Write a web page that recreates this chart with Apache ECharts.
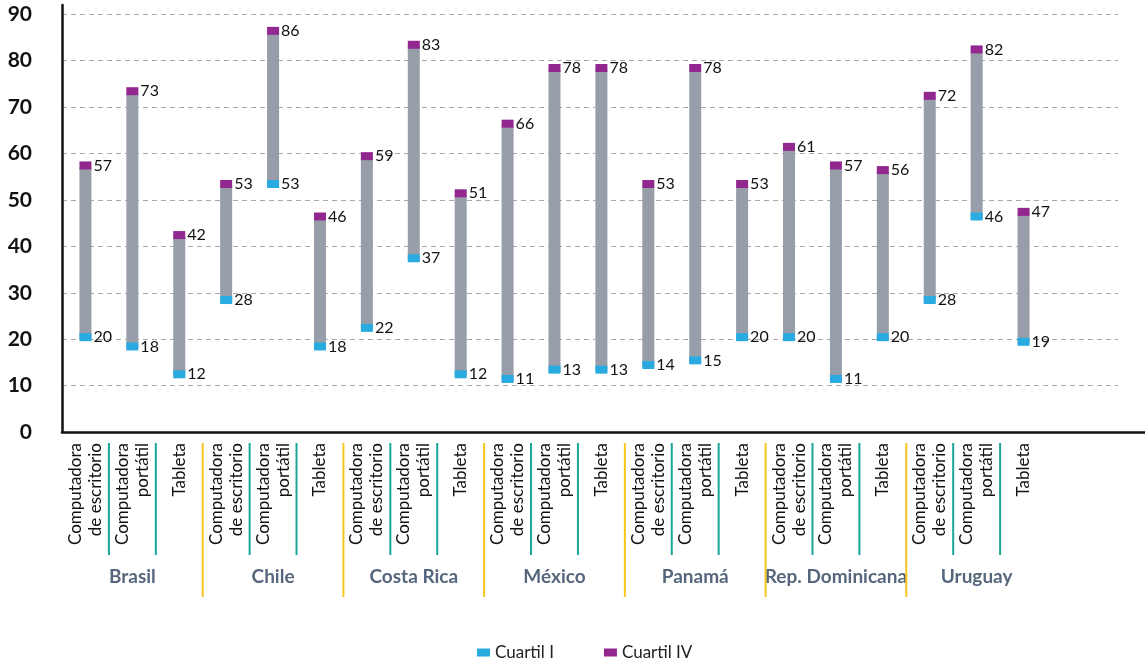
<!DOCTYPE html>
<html>
<head>
<meta charset="utf-8">
<script src="https://cdn.jsdelivr.net/npm/echarts@6/dist/echarts.min.js"></script>
<style>
  html, body { margin: 0; padding: 0; background: #fff; }
  #chart { width: 1145px; height: 660px; }
</style>
</head>
<body>
<div id="chart"></div>
<script>
// ---- data ----
const countries = ['Brasil', 'Chile', 'Costa Rica', 'México', 'Panamá', 'Rep. Dominicana', 'Uruguay'];
const devices = ['Computadora\nde escritorio', 'Computadora\nportátil', 'Tableta'];
const quartile1 = [20, 18, 12, 28, 53, 18, 22, 37, 12, 11, 13, 13, 14, 15, 20, 20, 11, 20, 28, 46, 19];
const quartile4 = [57, 73, 42, 53, 86, 46, 59, 83, 51, 66, 78, 78, 53, 78, 53, 61, 57, 56, 72, 82, 47];
const yTicks = [0, 10, 20, 30, 40, 50, 60, 70, 80, 90];

// ---- derived ----
const categories = [];
countries.forEach(() => devices.forEach(d => categories.push(d)));
const rangeSize = quartile4.map((v, i) => v - quartile1[i]);
const separators = [];
for (let i = 1; i < categories.length; i++) separators.push([i, i % devices.length === 0 ? 1 : 0]);

const FONT = 'Lato';
const TEXT = '#111';
const chart = echarts.init(document.getElementById('chart'));

const AXIS_Y = 432;         // pixel of value 0
const TOP_MAIN = 5;         // top of the data grid (value yMaxMain)
const yMaxMain = 92;
const pxPerUnit = (AXIS_Y - TOP_MAIN) / yMaxMain;
const yMaxGrid = yTicks[yTicks.length - 1];
const topGridLines = AXIS_Y - yMaxGrid * pxPerUnit;
const bottom = 660 - AXIS_Y;

const labelStyle = { fontFamily: FONT, fontSize: 16, color: TEXT };

chart.setOption({
  animation: false,
  textStyle: { fontFamily: FONT },
  legend: {
    data: ['Cuartil I', 'Cuartil IV'],
    left: 472, top: 639,
    itemWidth: 13, itemHeight: 8, itemGap: 50,
    icon: 'rect',
    textStyle: { fontFamily: FONT, fontSize: 17, color: '#222' }
  },
  grid: [
    { left: 62, right: 27, top: topGridLines, bottom: bottom },   // gridlines + y labels
    { left: 62, right: 0, top: TOP_MAIN, bottom: bottom },        // x axis line
    { left: 62, right: 98, top: TOP_MAIN, bottom: bottom },       // data
    { left: 62, right: 98, top: 443, bottom: 63 }                 // separators
  ],
  xAxis: [
    { gridIndex: 0, type: 'category', data: [''], show: false },
    { gridIndex: 1, type: 'category', data: [''], axisLine: { show: true, lineStyle: { color: '#111', width: 2.5 } }, axisTick: { show: false }, axisLabel: { show: false } },
    { gridIndex: 2, type: 'category', data: categories,
      axisLine: { show: false }, axisTick: { show: false },
      axisLabel: { interval: 0, rotate: 90, margin: 11, fontFamily: FONT, fontSize: 17, lineHeight: 20, color: TEXT } },
    { gridIndex: 2, type: 'category', data: countries, position: 'bottom',
      axisLine: { show: false }, axisTick: { show: false },
      axisLabel: { interval: 0, margin: 135, fontFamily: FONT, fontSize: 19, fontWeight: 'bold', color: '#56677d' } },
    { gridIndex: 3, type: 'category', data: categories, show: false }
  ],
  yAxis: [
    { gridIndex: 0, type: 'value', min: 0, max: yMaxGrid, interval: 10,
      axisLine: { show: false }, axisTick: { show: false },
      splitLine: { show: true, lineStyle: { color: '#a9a9a9', type: [5, 4], width: 1 } },
      axisLabel: { margin: 30, fontFamily: FONT, fontSize: 21, fontWeight: 'bold', color: TEXT } },
    { gridIndex: 1, type: 'value', min: 0, max: yMaxMain, show: false },
    { gridIndex: 2, type: 'value', min: 0, max: yMaxMain,
      axisLine: { show: true, lineStyle: { color: '#111', width: 2.5 } },
      axisTick: { show: false }, axisLabel: { show: false }, splitLine: { show: false } },
    { gridIndex: 3, type: 'value', min: 0, max: 1, show: false }
  ],
  series: [
    { name: 'base', type: 'bar', xAxisIndex: 2, yAxisIndex: 2, stack: 'q', data: quartile1,
      barWidth: 12, itemStyle: { color: 'transparent' }, silent: true },
    { name: 'rango', type: 'bar', xAxisIndex: 2, yAxisIndex: 2, stack: 'q', data: rangeSize,
      barWidth: 12, itemStyle: { color: '#979ea9' }, silent: true },
    { name: 'Cuartil I', type: 'scatter', xAxisIndex: 2, yAxisIndex: 2,
      data: quartile1.map((v, i) => [i, v]),
      symbol: 'rect', symbolSize: [12, 8], symbolOffset: [0, -2],
      itemStyle: { color: '#29abe2', opacity: 1 }, z: 5,
      label: { show: true, position: 'right', distance: 2, formatter: p => p.value[1], ...labelStyle } },
    { name: 'Cuartil IV', type: 'scatter', xAxisIndex: 2, yAxisIndex: 2,
      data: quartile4.map((v, i) => [i, v]),
      symbol: 'rect', symbolSize: [12, 8], symbolOffset: [0, -2],
      itemStyle: { color: '#92278f', opacity: 1 }, z: 5,
      label: { show: true, position: 'right', distance: 2, formatter: p => p.value[1], ...labelStyle } },
    { name: 'separadores', type: 'custom', xAxisIndex: 4, yAxisIndex: 3, data: separators, silent: true,
      renderItem: function (params, api) {
        const i = api.value(0);
        const isGroup = api.value(1) === 1;
        const a = api.coord([i - 1, 0])[0];
        const b = api.coord([i, 0])[0];
        const x = (a + b) / 2;
        const top = params.coordSys.y;
        const h = isGroup ? params.coordSys.height : 112;
        return { type: 'line', shape: { x1: x, y1: top, x2: x, y2: top + h },
                 style: { stroke: isGroup ? '#f6c61c' : '#1aa596', lineWidth: 2 } };
      } }
  ]
});
</script>
</body>
</html>
